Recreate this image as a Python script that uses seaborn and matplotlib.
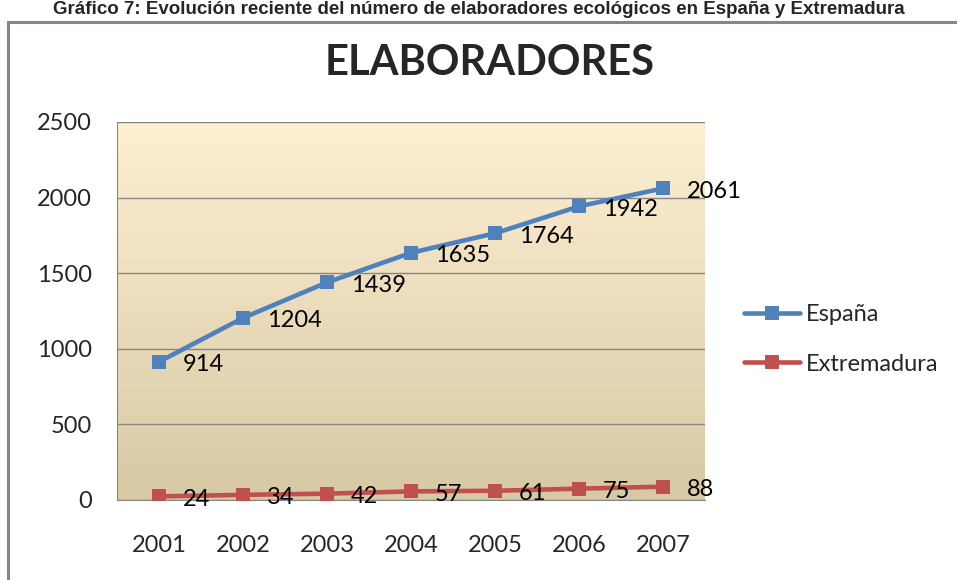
import numpy as np
import pandas as pd
import seaborn as sns
import matplotlib.pyplot as plt
from matplotlib.patches import Rectangle

#%% data
years = ["2001", "2002", "2003", "2004", "2005", "2006", "2007"]
espana = [914, 1204, 1439, 1635, 1764, 1942, 2061]
extremadura = [24, 34, 42, 57, 61, 75, 88]
series_names = ["España", "Extremadura"]
colors = ["#4F81BD", "#C0504D"]

df = pd.DataFrame({"year": years * 2,
                   "value": espana + extremadura,
                   "serie": [series_names[0]] * 7 + [series_names[1]] * 7})

#%% figure
sns.set_style("white")
plt.rcParams['font.family'] = ['Lato', 'DejaVu Sans']
fig = plt.figure(figsize=(9.57, 5.8), dpi=100)
ax = fig.add_axes([117 / 957, 1 - 500 / 580, 588 / 957, 378 / 580])

# caption and outer chart frame
fig.text(0.5, 1 - 1 / 580, "Gráfico 7: Evolución reciente del número de elaboradores ecológicos en España y Extremadura",
         ha="center", va="top", fontsize=13.5, fontweight="bold", family="Liberation Sans")
fig.patches.append(Rectangle((8 / 957, -0.1), 1.2, 1 - 22 / 580 + 0.1, transform=fig.transFigure,
                             fill=False, edgecolor="#868686", linewidth=2.2))

# gradient background
grad = np.linspace(0, 1, 256).reshape(-1, 1)
top = np.array([253, 239, 210]) / 255
bot = np.array([216, 201, 165]) / 255
img = top + (bot - top) * grad[..., None]
ax.imshow(img, extent=[-0.5, 6.5, 0, 2500], aspect="auto", zorder=0)

sns.lineplot(data=df, x="year", y="value", hue="serie", palette=colors, marker="s",
             markersize=10, markeredgewidth=0, linewidth=3.3, ax=ax, zorder=3, sort=False)

for vals in [espana, extremadura]:
    for i, v in enumerate(vals):
        ax.annotate(str(v), (i, v), xytext=(17, -2), textcoords="offset points",
                    ha="left", va="center", fontsize=17, color="black", zorder=4)

ax.set_xlim(-0.5, 6.5)
ax.set_ylim(0, 2500)
ax.set_yticks(range(0, 2501, 500))
ax.grid(axis="y", color="#868686", linewidth=1)
ax.set_axisbelow(False)
ax.tick_params(axis="both", labelsize=17, length=0)
ax.tick_params(axis="y", pad=18)
ax.tick_params(axis="x", pad=25)
ax.set_xlabel("")
ax.set_ylabel("")
for s in ax.spines.values():
    s.set_visible(False)
ax.spines["left"].set_visible(True)
ax.spines["left"].set_color("#868686")
ax.spines["bottom"].set_visible(True)
ax.spines["bottom"].set_color("#868686")

fig.text(490 / 957, 1 - 63 / 580, "ELABORADORES", ha="center", va="center",
         fontsize=30, fontweight="bold")

leg = ax.legend(loc="center left", bbox_to_anchor=(1.066, 0.425), frameon=False, fontsize=17,
                handlelength=2.37, labelspacing=1.2, handletextpad=0.25, borderpad=0,
                borderaxespad=0)

fig.savefig("out.png", dpi=100)
